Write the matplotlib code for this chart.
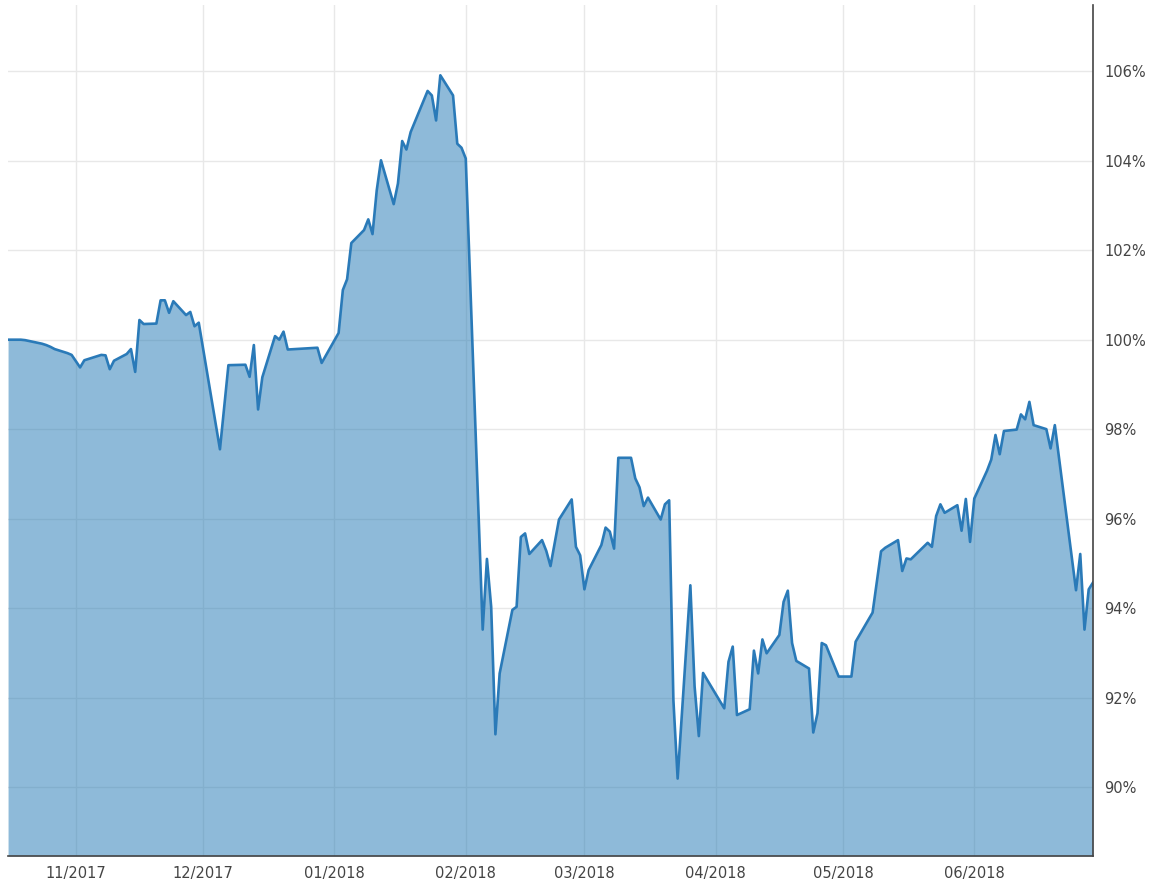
import pandas as pd
import matplotlib
matplotlib.use("Agg")
import matplotlib.pyplot as plt
import matplotlib.dates as mdates
from matplotlib.ticker import FuncFormatter

# daily values (percent of start value)
dates = [
    "2017-10-16", "2017-10-17", "2017-10-18", "2017-10-19", "2017-10-20",
    "2017-10-23", "2017-10-24", "2017-10-25", "2017-10-26", "2017-10-27",
    "2017-10-30", "2017-10-31", "2017-11-02", "2017-11-03", "2017-11-07",
    "2017-11-08", "2017-11-09", "2017-11-10", "2017-11-13", "2017-11-14",
    "2017-11-15", "2017-11-16", "2017-11-17", "2017-11-20", "2017-11-21",
    "2017-11-22", "2017-11-23", "2017-11-24", "2017-11-27", "2017-11-28",
    "2017-11-29", "2017-11-30", "2017-12-05", "2017-12-07", "2017-12-11",
    "2017-12-12", "2017-12-13", "2017-12-14", "2017-12-15", "2017-12-18",
    "2017-12-19", "2017-12-20", "2017-12-21", "2017-12-28", "2017-12-29",
    "2018-01-02", "2018-01-03", "2018-01-04", "2018-01-05", "2018-01-08",
    "2018-01-09", "2018-01-10", "2018-01-11", "2018-01-12", "2018-01-15",
    "2018-01-16", "2018-01-17", "2018-01-18", "2018-01-19", "2018-01-23",
    "2018-01-24", "2018-01-25", "2018-01-26", "2018-01-29", "2018-01-30",
    "2018-01-31", "2018-02-01", "2018-02-05", "2018-02-06", "2018-02-07",
    "2018-02-08", "2018-02-09", "2018-02-12", "2018-02-13", "2018-02-14",
    "2018-02-15", "2018-02-16", "2018-02-19", "2018-02-20", "2018-02-21",
    "2018-02-23", "2018-02-26", "2018-02-27", "2018-02-28", "2018-03-01",
    "2018-03-02", "2018-03-05", "2018-03-06", "2018-03-07", "2018-03-08",
    "2018-03-09", "2018-03-12", "2018-03-13", "2018-03-14", "2018-03-15",
    "2018-03-16", "2018-03-19", "2018-03-20", "2018-03-21", "2018-03-22",
    "2018-03-23", "2018-03-26", "2018-03-27", "2018-03-28", "2018-03-29",
    "2018-04-03", "2018-04-04", "2018-04-05", "2018-04-06", "2018-04-09",
    "2018-04-10", "2018-04-11", "2018-04-12", "2018-04-13", "2018-04-16",
    "2018-04-17", "2018-04-18", "2018-04-19", "2018-04-20", "2018-04-23",
    "2018-04-24", "2018-04-25", "2018-04-26", "2018-04-27", "2018-04-30",
    "2018-05-03", "2018-05-04", "2018-05-08", "2018-05-10", "2018-05-11",
    "2018-05-14", "2018-05-15", "2018-05-16", "2018-05-17", "2018-05-21",
    "2018-05-22", "2018-05-23", "2018-05-24", "2018-05-25", "2018-05-28",
    "2018-05-29", "2018-05-30", "2018-05-31", "2018-06-01", "2018-06-04",
    "2018-06-05", "2018-06-06", "2018-06-07", "2018-06-08", "2018-06-11",
    "2018-06-12", "2018-06-13", "2018-06-14", "2018-06-15", "2018-06-18",
    "2018-06-19", "2018-06-20", "2018-06-25", "2018-06-26", "2018-06-27",
    "2018-06-28", "2018-06-29",
]
values = [
    100.00, 100.00, 100.00, 100.00, 99.99,
    99.93, 99.91, 99.88, 99.84, 99.79,
    99.70, 99.66, 99.38, 99.54, 99.66,
    99.65, 99.34, 99.53, 99.68, 99.79,
    99.28, 100.44, 100.35, 100.36, 100.88,
    100.88, 100.60, 100.86, 100.55, 100.62,
    100.30, 100.38, 97.55, 99.43, 99.44,
    99.17, 99.88, 98.44, 99.16, 100.08,
    100.00, 100.18, 99.78, 99.82, 99.48,
    100.15, 101.11, 101.35, 102.16, 102.45,
    102.69, 102.36, 103.34, 104.01, 103.03,
    103.49, 104.44, 104.25, 104.64, 105.56,
    105.46, 104.90, 105.91, 105.46, 104.38,
    104.29, 104.05, 93.52, 95.10, 94.03,
    91.18, 92.54, 93.96, 94.03, 95.59,
    95.67, 95.21, 95.52, 95.28, 94.94,
    95.98, 96.43, 95.37, 95.18, 94.42,
    94.85, 95.41, 95.80, 95.71, 95.33,
    97.36, 97.36, 96.90, 96.70, 96.28,
    96.47, 95.98, 96.32, 96.41, 91.94,
    90.19, 94.51, 92.25, 91.14, 92.55,
    91.76, 92.80, 93.14, 91.61, 91.74,
    93.05, 92.54, 93.30, 92.99, 93.40,
    94.14, 94.39, 93.22, 92.82, 92.65,
    91.22, 91.65, 93.22, 93.17, 92.47,
    92.47, 93.25, 93.90, 95.27, 95.35,
    95.52, 94.83, 95.11, 95.09, 95.46,
    95.37, 96.06, 96.32, 96.13, 96.30,
    95.73, 96.44, 95.48, 96.45, 97.07,
    97.32, 97.87, 97.44, 97.96, 97.99,
    98.33, 98.22, 98.61, 98.09, 98.00,
    97.57, 98.09, 94.40, 95.21, 93.52,
    94.42, 94.57,
]
y_ticks = [90, 92, 94, 96, 98, 100, 102, 104, 106]
x_ticks = ["2017-11-01", "2017-12-01", "2018-01-01", "2018-02-01",
           "2018-03-01", "2018-04-01", "2018-05-01", "2018-06-01"]

x = pd.to_datetime(dates)
ymin, ymax = 88.46, 107.48

fig = plt.figure(figsize=(11.5, 8.83), dpi=100)
ax = fig.add_axes([0.007, 0.0306, 0.9434, 0.9637])

ax.fill_between(x, values, ymin, color="#1f77b4", alpha=0.5, linewidth=0)
ax.plot(x, values, color="#2a7ab8", linewidth=1.9)

ax.set_xlim(x[0], x[-1])
ax.set_ylim(ymin, ymax)

ax.set_axisbelow(True)
ax.grid(True, color="#e8e8e8", linewidth=1.0)

ax.yaxis.tick_right()
ax.set_yticks(y_ticks)
ax.yaxis.set_major_formatter(FuncFormatter(lambda v, p: "%d%%" % v))
ax.set_xticks(pd.to_datetime(x_ticks))
ax.xaxis.set_major_formatter(mdates.DateFormatter("%m/%Y"))
ax.tick_params(axis="both", length=0, labelsize=10.5, labelcolor="#444444")
ax.tick_params(axis="y", pad=8)
ax.tick_params(axis="x", pad=7)

for s in ["left", "top"]:
    ax.spines[s].set_visible(False)
for s in ["right", "bottom"]:
    ax.spines[s].set_color("#444444")
    ax.spines[s].set_linewidth(1.2)

fig.savefig("out.png", dpi=100)
